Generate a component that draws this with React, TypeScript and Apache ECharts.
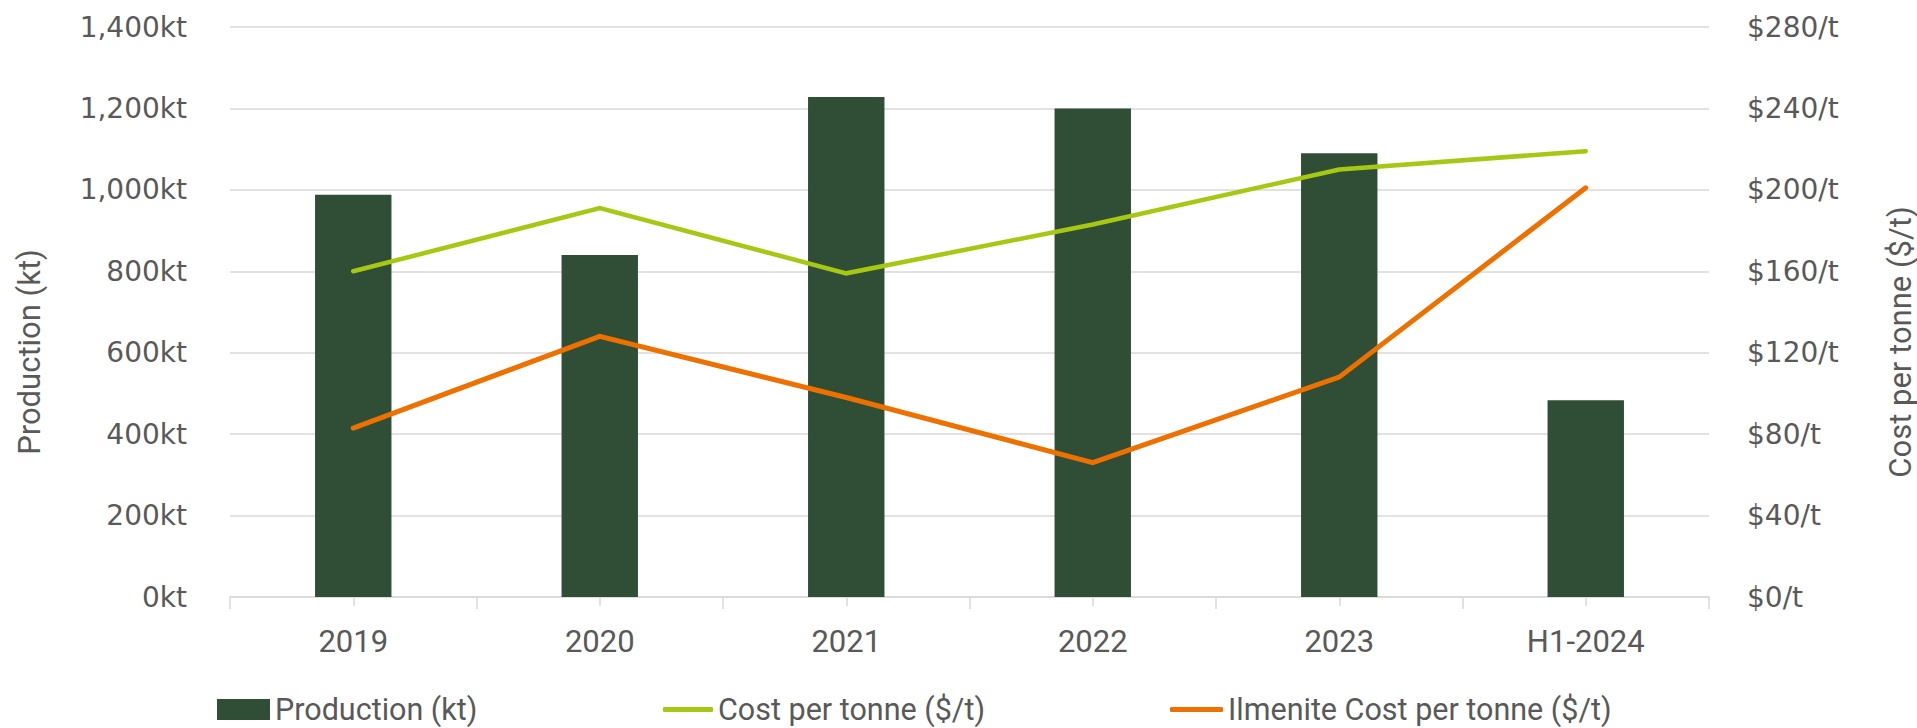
import React, { useEffect, useRef } from "react";
import * as echarts from "echarts";

const categories = ["2019", "2020", "2021", "2022", "2023", "H1-2024"];
const production = [988, 840, 1228, 1200, 1090, 483];
const costPerTonne = [160, 191, 159, 183, 210, 219];
const ilmeniteCost = [83, 128, 98, 66, 108, 201];

const leftTicks = { min: 0, max: 1400, interval: 200 };
const rightTicks = { min: 0, max: 280, interval: 40 };

const TEXT = "#595959";
const GRID = "#D9D9D9";
const BAR = "#304E36";
const GREEN = "#A6C813";
const ORANGE = "#EE7100";

export default function App() {
  const ref = useRef<HTMLDivElement>(null);
  useEffect(() => {
    if (!ref.current) return;
    const chart = echarts.init(ref.current, undefined, { renderer: "svg" });
    const legendText = { color: TEXT, fontSize: 30.5, lineHeight: 30, fontFamily: "Roboto" };
    chart.setOption({
      animation: false,
      backgroundColor: "#ffffff",
      grid: { left: 230, right: 208, top: 27, bottom: 131 },
      legend: [
        {
          data: [{ name: "Production (kt)", icon: "rect" }],
          left: 217,
          top: 694,
          itemWidth: 53,
          itemHeight: 21,
          itemGap: 0,
          textStyle: legendText,
          padding: 0,
        },
        {
          data: [{ name: "Cost per tonne ($/t)", icon: "roundRect" }],
          left: 663,
          top: 694,
          itemWidth: 50,
          itemHeight: 5,
          textStyle: legendText,
          padding: 0,
        },
        {
          data: [{ name: "Ilmenite Cost per tonne ($/t)", icon: "roundRect" }],
          left: 1170,
          top: 694,
          itemWidth: 53,
          itemHeight: 5,
          textStyle: legendText,
          padding: 0,
        },
      ],
      xAxis: [
        {
          type: "category",
          data: categories,
          boundaryGap: true,
          axisLine: { show: true, lineStyle: { color: GRID, width: 1.5 } },
          axisTick: { show: true, alignWithLabel: false, length: 12, lineStyle: { color: GRID, width: 1.5 } },
          axisLabel: { color: TEXT, fontSize: 31, fontFamily: "Roboto", margin: 29 },
        },
        {
          type: "category",
          data: categories,
          position: "bottom",
          boundaryGap: true,
          axisLine: { show: false },
          axisTick: { show: true, alignWithLabel: true, length: 9, lineStyle: { color: GRID, width: 1.5 } },
          axisLabel: { show: false },
        },
      ],
      yAxis: [
        {
          type: "value",
          min: leftTicks.min,
          max: leftTicks.max,
          interval: leftTicks.interval,
          axisLine: { show: false },
          axisTick: { show: false },
          splitLine: { show: true, lineStyle: { color: GRID, width: 1.5 } },
          axisLabel: {
            color: TEXT,
            fontSize: 28,
            fontFamily: "DejaVu Sans",
            margin: 43,
            formatter: (v: number) => v.toLocaleString("en-US") + "kt",
          },
        },
        {
          type: "value",
          position: "right",
          min: rightTicks.min,
          max: rightTicks.max,
          interval: rightTicks.interval,
          axisLine: { show: false },
          axisTick: { show: false },
          splitLine: { show: false },
          axisLabel: {
            color: TEXT,
            fontSize: 28,
            fontFamily: "DejaVu Sans",
            margin: 38,
            formatter: (v: number) => "$" + v + "/t",
          },
        },
      ],
      series: [
        {
          name: "Production (kt)",
          type: "bar",
          data: production,
          xAxisIndex: 0,
          yAxisIndex: 0,
          barWidth: "31%",
          itemStyle: { color: BAR },
        },
        {
          name: "Cost per tonne ($/t)",
          type: "line",
          data: costPerTonne,
          xAxisIndex: 0,
          yAxisIndex: 1,
          showSymbol: false,
          symbol: "none",
          color: GREEN,
          lineStyle: { color: GREEN, width: 4.5, cap: "round", join: "miter" },
        },
        {
          name: "Ilmenite Cost per tonne ($/t)",
          type: "line",
          data: ilmeniteCost,
          xAxisIndex: 0,
          yAxisIndex: 1,
          showSymbol: false,
          symbol: "none",
          color: ORANGE,
          lineStyle: { color: ORANGE, width: 5, cap: "round", join: "miter" },
        },
      ],
      graphic: [
        {
          type: "text",
          x: 29,
          y: 352,
          rotation: Math.PI / 2,
          style: {
            text: "Production (kt)",
            fill: TEXT,
            fontSize: 31,
            fontFamily: "Roboto",
            align: "center",
            verticalAlign: "middle",
          },
        },
        {
          type: "text",
          x: 1900,
          y: 342,
          rotation: Math.PI / 2,
          style: {
            text: "Cost per tonne ($/t)",
            fill: TEXT,
            fontSize: 31,
            fontFamily: "Roboto",
            align: "center",
            verticalAlign: "middle",
          },
        },
      ],
    });
    return () => chart.dispose();
  }, []);
  return (
    <div
      ref={ref}
      style={{ position: "absolute", left: 0, top: 0, width: 1917, height: 728 }}
    />
  );
}
